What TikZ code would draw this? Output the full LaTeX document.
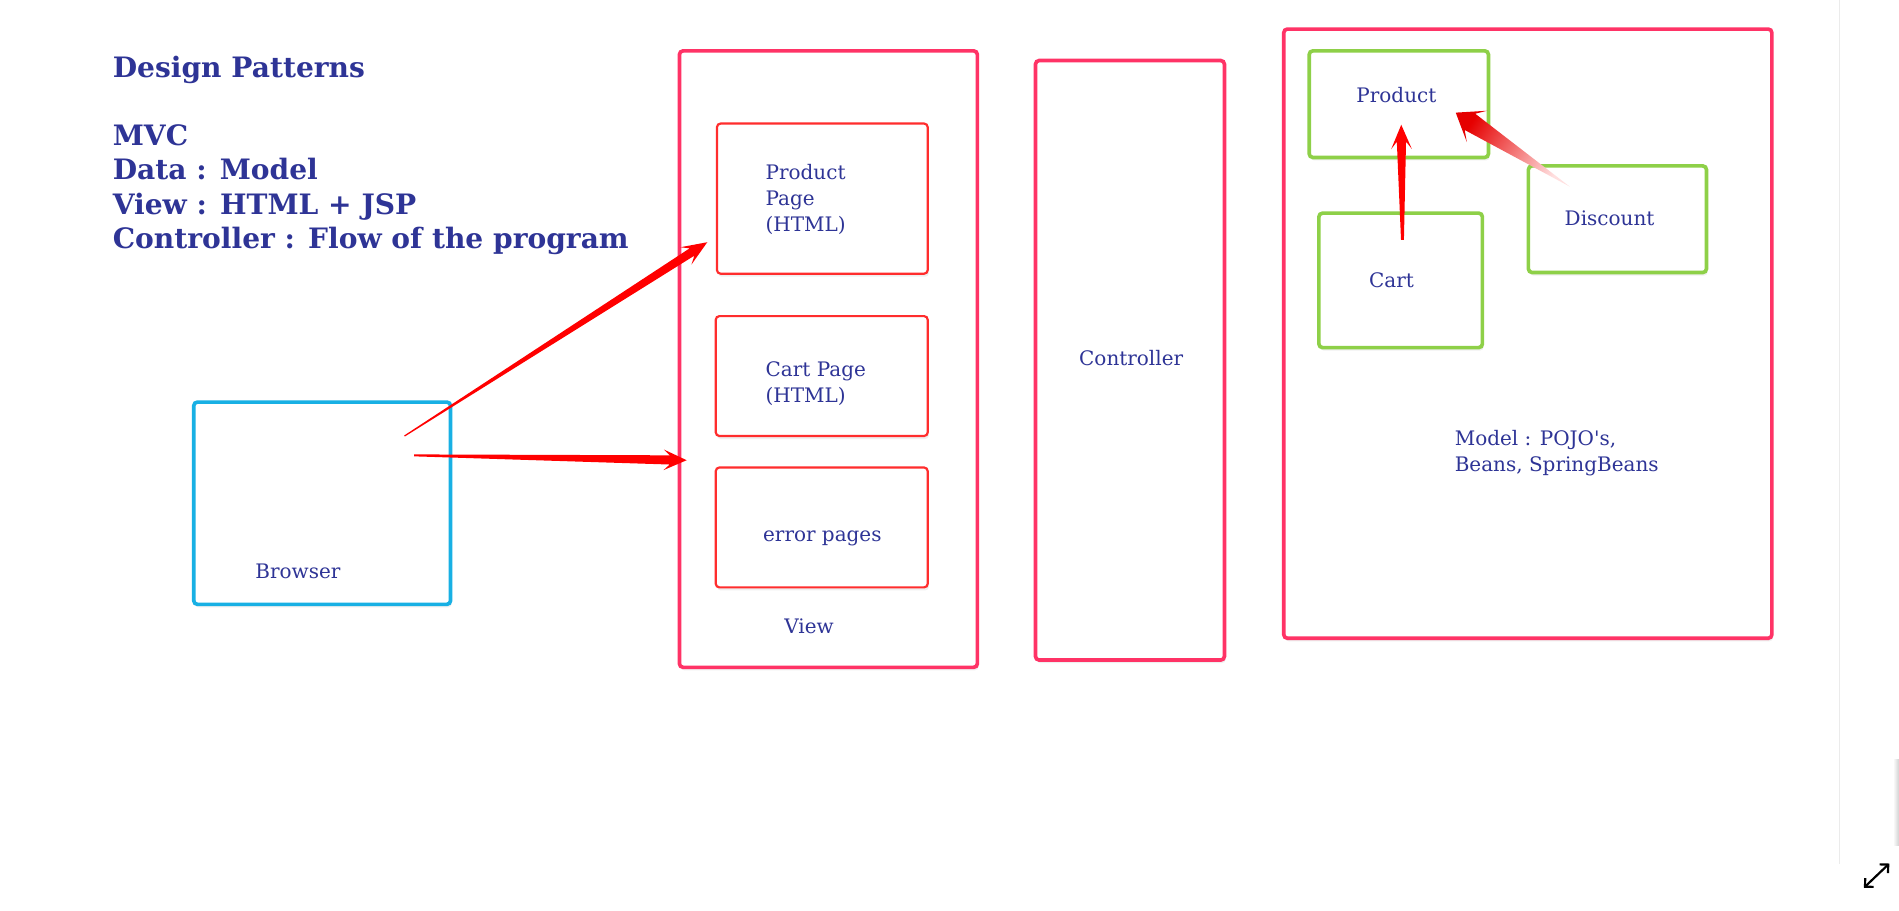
\documentclass[tikz,border=0pt]{standalone}
\usepackage{fontspec}
\setmainfont{DejaVu Serif}
\usetikzlibrary{calc,shadows,arrows.meta}
\definecolor{navy}{RGB}{46,52,150}
\definecolor{pinkb}{RGB}{255,51,102}
\definecolor{redb}{RGB}{255,45,45}
\definecolor{blueb}{RGB}{24,176,228}
\definecolor{greenb}{RGB}{142,208,72}
\definecolor{arrowred}{RGB}{255,0,0}
\tikzset{
  box/.style={rectangle, rounded corners=3pt, fill=white, inner sep=0pt,
    drop shadow={shadow xshift=1pt, shadow yshift=-2.5pt, opacity=0.12}},
  pinkbox/.style={box, draw=pinkb, line width=3pt},
  redbox/.style={box, draw=redb, line width=1.8pt},
  bluebox/.style={box, draw=blueb, line width=3pt},
  greenbox/.style={box, draw=greenb, line width=3pt},
  lbl/.style={text=navy, font=\fontsize{16.5}{21.5}\selectfont, inner sep=0pt},
  heading/.style={text=navy, font=\bfseries\fontsize{23.2}{28.5}\selectfont, inner sep=0pt, anchor=base west},
  redarrow/.style={fill=arrowred},
}
% #1 style, #2 tail, #3 tip, #4 tail half-width, #5 shaft half-width,
% #6 notch distance, #7 head length, #8 head half-width
\newcommand\taperarrow[8]{%
  \coordinate (ta-n) at ($(#3)!#6!(#2)$);
  \coordinate (ta-b) at ($(#3)!#7!(#2)$);
  \path[#1] ($(#2)!#4!90:(#3)$) -- ($(ta-n)!#5!90:(#3)$) -- ($(ta-b)!#8!90:(#3)$)
    -- (#3) -- ($(ta-b)!#8!-90:(#3)$) -- ($(ta-n)!#5!-90:(#3)$) -- ($(#2)!#4!-90:(#3)$) -- cycle;
}
\begin{document}
\begin{tikzpicture}[x=1pt,y=-1pt]
\useasboundingbox (0,0) rectangle (1568,752.2);
\fill[white] (0,0) rectangle (1568,752.2);

% page divider and edge
\coordinate (div1) at (1519,0);
\coordinate (div2) at (1519,713);
\draw[black!8, line width=1pt] (div1) -- (div2);
\shade[left color=white, right color=black!18] (1563,627) rectangle (1568,698);

% headings
\node[heading] (t1) at (93,64) {Design Patterns};
\node[heading] (t2) at (93,120) {MVC};
\node[heading] (t3) at (93,148.5) {Data : Model};
\node[heading] (t4) at (93,177) {View : HTML + JSP};
\node[heading] (t5) at (93,205.5) {Controller : Flow of the program};

% browser
\node[bluebox, minimum width=212pt, minimum height=167pt] (browser) at (266,415.5) {};
\node[lbl, anchor=base] (lbrowser) at (246,478) {Browser};

% view
\node[pinkbox, minimum width=246pt, minimum height=509pt] (view) at (684,296.5) {};
\node[redbox, minimum width=174pt, minimum height=124pt] (prodpage) at (679,164) {};
\node[redbox, minimum width=175pt, minimum height=99pt] (cartpage) at (678.5,310.5) {};
\node[redbox, minimum width=175pt, minimum height=99pt] (errpage) at (678.5,435.5) {};
\node[lbl, anchor=base west, align=left] (lprod) at (632,191) {Product\\Page\\(HTML)};
\node[lbl, anchor=base west, align=left] (lcart) at (632,332) {Cart Page\\(HTML)};
\node[lbl, anchor=base] (lerr) at (679,447) {error pages};
\node[lbl, anchor=base] (lview) at (668,523) {View};

% controller
\node[pinkbox, minimum width=156pt, minimum height=495pt] (ctrl) at (933,297.5) {};
\node[lbl, anchor=base] (lctrl) at (934,302) {Controller};

% model
\node[pinkbox, minimum width=403pt, minimum height=503pt] (model) at (1261.5,275.5) {};
\node[greenbox, minimum width=148pt, minimum height=88pt] (gprod) at (1155,86) {};
\node[greenbox, minimum width=135pt, minimum height=111pt] (gcart) at (1156.5,231.5) {};
\node[greenbox, minimum width=147pt, minimum height=88pt] (gdisc) at (1335.5,181) {};
\node[lbl, anchor=base] (lgprod) at (1153,85) {Product};
\node[lbl, anchor=base] (lgcart) at (1149,237) {Cart};
\node[lbl, anchor=base] (lgdisc) at (1329,186) {Discount};
\node[lbl, anchor=base west, align=left] (lmodel) at (1201,389) {Model : POJO\textquotesingle s,\\Beans, SpringBeans};

% arrows
\coordinate (a1s) at (334,360);
\coordinate (a1e) at (584,200);
\coordinate (a2s) at (342,376);
\coordinate (a2e) at (567,380);
\coordinate (a3s) at (1158,198);
\coordinate (a3e) at (1157,103);
\coordinate (a4s) at (1296,154);
\coordinate (a4e) at (1202,93);
\taperarrow{redarrow}{a1s}{a1e}{0.5pt}{3.6pt}{15pt}{21pt}{8.5pt}
\taperarrow{redarrow}{a2s}{a2e}{0.8pt}{3.8pt}{14pt}{19pt}{8.5pt}
\taperarrow{redarrow}{a3s}{a3e}{1.2pt}{3.8pt}{14pt}{20pt}{8.5pt}
\taperarrow{shade, top color=red!90!black, middle color=red!80, bottom color=red!12, shading angle=57}{a4s}{a4e}{0pt}{8pt}{14pt}{21pt}{15.5pt}

% expand icon
\coordinate (ic1) at (1539,733);
\coordinate (ic2) at (1560,713);
\draw[line width=1.8pt, {Straight Barb[length=5pt,width=10pt]}-{Straight Barb[length=5pt,width=10pt]}] (ic1) -- (ic2);
\end{tikzpicture}
\end{document}
